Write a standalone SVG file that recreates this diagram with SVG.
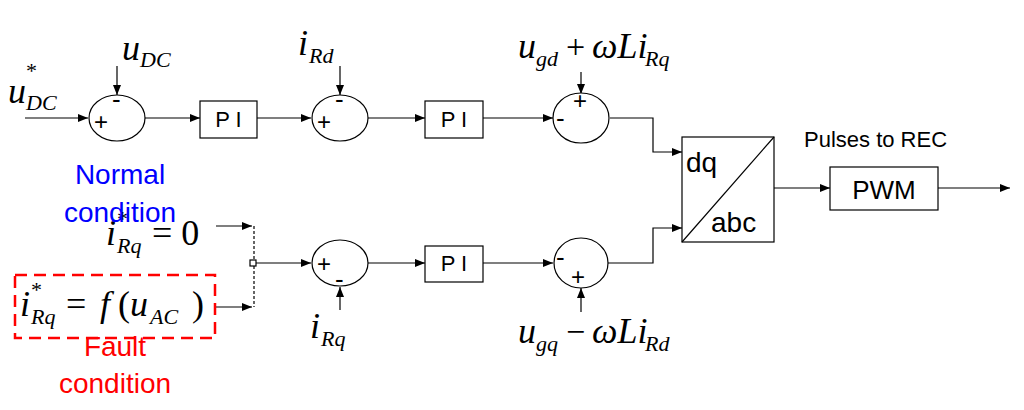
<svg xmlns="http://www.w3.org/2000/svg" width="1024" height="410" viewBox="0 0 1024 410">
<defs><marker id="a" markerWidth="10" markerHeight="8" refX="10" refY="4" orient="auto" markerUnits="userSpaceOnUse"><path d="M0,0L10,4L0,8z" fill="#000"/></marker></defs>
<style>
.l{stroke:#000;stroke-width:1.2;fill:none}
.b{fill:#fff;stroke:#000;stroke-width:1.2}
.s{font-family:'Liberation Sans',sans-serif;fill:#000}
.m{font-family:'Liberation Serif',serif;font-style:italic;fill:#000}
.n{font-family:'Liberation Serif',serif;fill:#000}
</style>
<rect width="1024" height="410" fill="#fff"/>
<g id="connectors">
<path class="l" d="M25,118H88" marker-end="url(#a)"/>
<path class="l" d="M117,66V95" marker-end="url(#a)"/>
<path class="l" d="M145,118H200" marker-end="url(#a)"/>
<path class="l" d="M257,118H311" marker-end="url(#a)"/>
<path class="l" d="M340,66V95" marker-end="url(#a)"/>
<path class="l" d="M368,118H425" marker-end="url(#a)"/>
<path class="l" d="M483,118H553" marker-end="url(#a)"/>
<path class="l" d="M581,72V94" marker-end="url(#a)"/>
<path class="l" d="M610,118H653V152H682" marker-end="url(#a)"/>
<path class="l" d="M607,263H653V228H682" marker-end="url(#a)"/>
<path class="l" d="M774,188H830" marker-end="url(#a)"/>
<path class="l" d="M938,188H1010" marker-end="url(#a)"/>
<path class="l" d="M216,226H252" marker-end="url(#a)"/>
<path class="l" d="M216,307H252" marker-end="url(#a)"/>
<path class="l" d="M254,226V307" stroke-dasharray="3,2" stroke-width="1"/>
<path class="l" d="M256,263H311" marker-end="url(#a)"/>
<path class="l" d="M340,310V287" marker-end="url(#a)"/>
<path class="l" d="M368,263H425" marker-end="url(#a)"/>
<path class="l" d="M483,263H553" marker-end="url(#a)"/>
<path class="l" d="M581,312V288" marker-end="url(#a)"/>
</g>
<rect x="250" y="260" width="6" height="6" class="b" stroke-width="1"/>
<g id="sum1"><ellipse cx="117" cy="118" rx="28" ry="23" class="b"/><text x="94" y="130" class="s" font-size="24">+</text><text x="112" y="108" class="s" font-size="26">-</text></g>
<g id="pi1"><rect x="200" y="101" width="57" height="37" class="b"/><text x="228.5" y="127" class="s" font-size="22" text-anchor="middle">P I</text></g>
<g id="sum2"><ellipse cx="340" cy="118" rx="28" ry="23" class="b"/><text x="317" y="130" class="s" font-size="24">+</text><text x="335" y="108" class="s" font-size="26">-</text></g>
<g id="pi2"><rect x="425" y="101" width="58" height="37" class="b"/><text x="454" y="127" class="s" font-size="22" text-anchor="middle">P I</text></g>
<g id="sum3"><ellipse cx="581" cy="118" rx="28" ry="25" class="b"/><text x="556" y="127" class="s" font-size="26">-</text><text x="573" y="109" class="s" font-size="24">+</text></g>
<g id="sum4"><ellipse cx="581" cy="263" rx="27" ry="25" class="b"/><text x="556" y="266" class="s" font-size="26">-</text><text x="571" y="285" class="s" font-size="24">+</text></g>
<g id="sum5"><ellipse cx="340" cy="263" rx="28" ry="23" class="b"/><text x="317" y="272" class="s" font-size="24">+</text><text x="335" y="288" class="s" font-size="26">-</text></g>
<g id="pi3"><rect x="425" y="246" width="58" height="36" class="b"/><text x="454" y="271" class="s" font-size="22" text-anchor="middle">P I</text></g>
<g id="dqabc"><rect x="682" y="137" width="92" height="105" class="b"/><path class="l" d="M682,242L774,137"/><text x="686" y="172" class="s" font-size="28">dq</text><text x="711" y="232" class="s" font-size="28">abc</text></g>
<g id="pwm"><rect x="830" y="167" width="108" height="43" class="b"/><text x="884" y="199" class="s" font-size="26" text-anchor="middle">PWM</text></g>
<text x="804" y="147" class="s" font-size="22">Pulses to REC</text>
<text x="8" y="103" class="m" font-size="36">u</text><text x="26" y="78" class="n" font-size="22">*</text><text x="26" y="110" class="m" font-size="22">DC</text>
<text x="122" y="60" class="m" font-size="36">u</text><text x="140" y="67" class="m" font-size="22">DC</text>
<text x="298" y="55" class="m" font-size="36">i</text><text x="309" y="63" class="m" font-size="22">Rd</text>
<text x="518" y="58" class="m" font-size="36">u</text><text x="536" y="66" class="m" font-size="22">gd</text><text x="566" y="58" class="n" font-size="34">+</text><text x="592" y="58" class="m" font-size="36">ωLi</text><text x="645" y="66" class="m" font-size="22">Rq</text>
<text x="518" y="343" class="m" font-size="36">u</text><text x="536" y="351" class="m" font-size="22">gq</text><text x="566" y="343" class="n" font-size="34">−</text><text x="592" y="343" class="m" font-size="36">ωLi</text><text x="645" y="351" class="m" font-size="22">Rd</text>
<text x="310" y="338" class="m" font-size="36">i</text><text x="321" y="346" class="m" font-size="22">Rq</text>
<text x="106" y="245" class="m" font-size="36">i</text><text x="117" y="226" class="n" font-size="22">*</text><text x="117" y="253" class="m" font-size="22">Rq</text><text x="152" y="245" class="n" font-size="36">= 0</text>
<text x="20" y="316" class="m" font-size="36">i</text><text x="31" y="297" class="n" font-size="22">*</text><text x="31" y="324" class="m" font-size="22">Rq</text><text x="66" y="316" class="n" font-size="36">=</text><text x="100" y="316" class="m" font-size="36">f</text><text x="118" y="316" class="n" font-size="36">(</text><text x="130" y="316" class="m" font-size="36">u</text><text x="150" y="324" class="m" font-size="22">AC</text><text x="192" y="316" class="n" font-size="36">)</text>
<rect x="15" y="275" width="200" height="63" fill="none" stroke="#f00" stroke-width="2.5" stroke-dasharray="12,7"/>
<text x="120" y="184" class="s" font-size="28" text-anchor="middle" style="fill:#00f">Normal</text>
<text x="120" y="222" class="s" font-size="28" text-anchor="middle" style="fill:#00f">condition</text>
<text x="115" y="356" class="s" font-size="28" text-anchor="middle" style="fill:#f00">Fault</text>
<text x="115" y="393" class="s" font-size="28" text-anchor="middle" style="fill:#f00">condition</text>
</svg>
